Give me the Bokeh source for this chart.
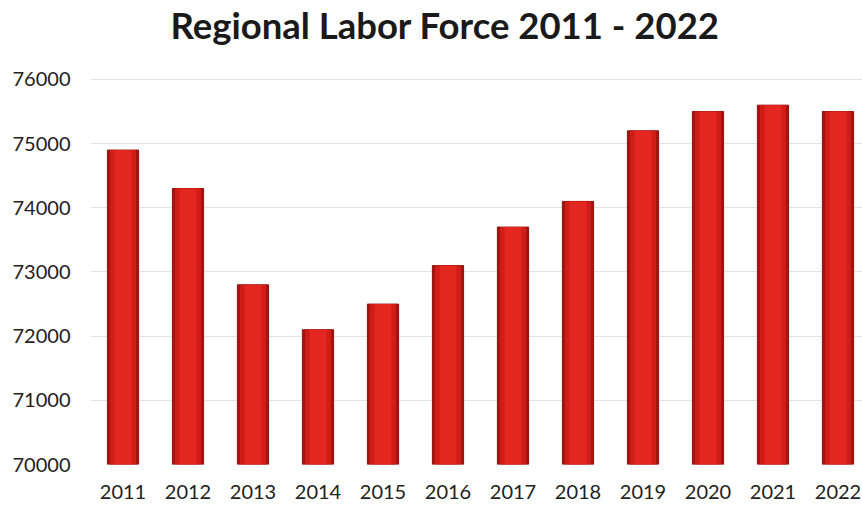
from bokeh.plotting import figure
from bokeh.models import ColumnDataSource, FixedTicker, BasicTickFormatter, Label
from bokeh.embed import file_html
from bokeh.resources import INLINE

years = ["2011", "2012", "2013", "2014", "2015", "2016", "2017", "2018", "2019", "2020", "2021", "2022"]
labor_force = [74900, 74300, 72800, 72100, 72500, 73100, 73700, 74100, 75200, 75500, 75600, 75500]
y_ticks = [70000, 71000, 72000, 73000, 74000, 75000, 76000]
base_value = 70000
title_text = "Regional Labor Force 2011 - 2022"

xs = list(range(1, len(years) + 1))
src = ColumnDataSource(dict(x=xs, top=labor_force, bottom=[base_value] * len(xs)))

# frame spans up to the canvas top so the title can sit inside it
p = figure(width=862, height=506, output_backend="svg", toolbar_location=None,
           x_range=(0.5, 12.377), y_range=(70000, 77231),
           min_border_left=90, min_border_right=0, min_border_top=0, min_border_bottom=42)

# cylinder-like bars: dark outer, brighter inner layers
p.vbar(x="x", top="top", bottom="bottom", width=0.48, source=src,
       fill_color="#a8130f", line_color="#8e0f0c", line_width=1)
p.vbar(x="x", top="top", bottom="bottom", width=0.40, source=src,
       fill_color="#cf1d18", line_color=None)
p.vbar(x="x", top="top", bottom="bottom", width=0.26, source=src,
       fill_color="#e3261f", line_color=None)

title = Label(x=5.955, y=76845, x_units="data", y_units="data", text=title_text,
              text_font="Lato", text_font_style="bold", text_font_size="36.5px",
              text_color="#1a1a1a", text_baseline="alphabetic", text_align="center")
p.add_layout(title)

p.xaxis.ticker = FixedTicker(ticks=xs)
p.xaxis.major_label_overrides = {i: y for i, y in zip(xs, years)}
p.yaxis.ticker = FixedTicker(ticks=y_ticks)
p.yaxis.formatter = BasicTickFormatter(use_scientific=False)

for ax in (p.xaxis, p.yaxis):
    ax.axis_line_color = None
    ax.major_tick_line_color = None
    ax.minor_tick_line_color = None
    ax.major_tick_out = 0
    ax.major_tick_in = 0
    ax.major_label_text_font = "Lato"
    ax.major_label_text_font_size = "20px"
    ax.major_label_text_color = "#222222"
p.xaxis.major_label_standoff = 20
p.yaxis.major_label_standoff = 20

p.xgrid.grid_line_color = None
p.ygrid.grid_line_color = "#e4e4e4"
p.ygrid.ticker = FixedTicker(ticks=y_ticks)
p.outline_line_color = None

open("out.html", "w").write(file_html(p, INLINE))
